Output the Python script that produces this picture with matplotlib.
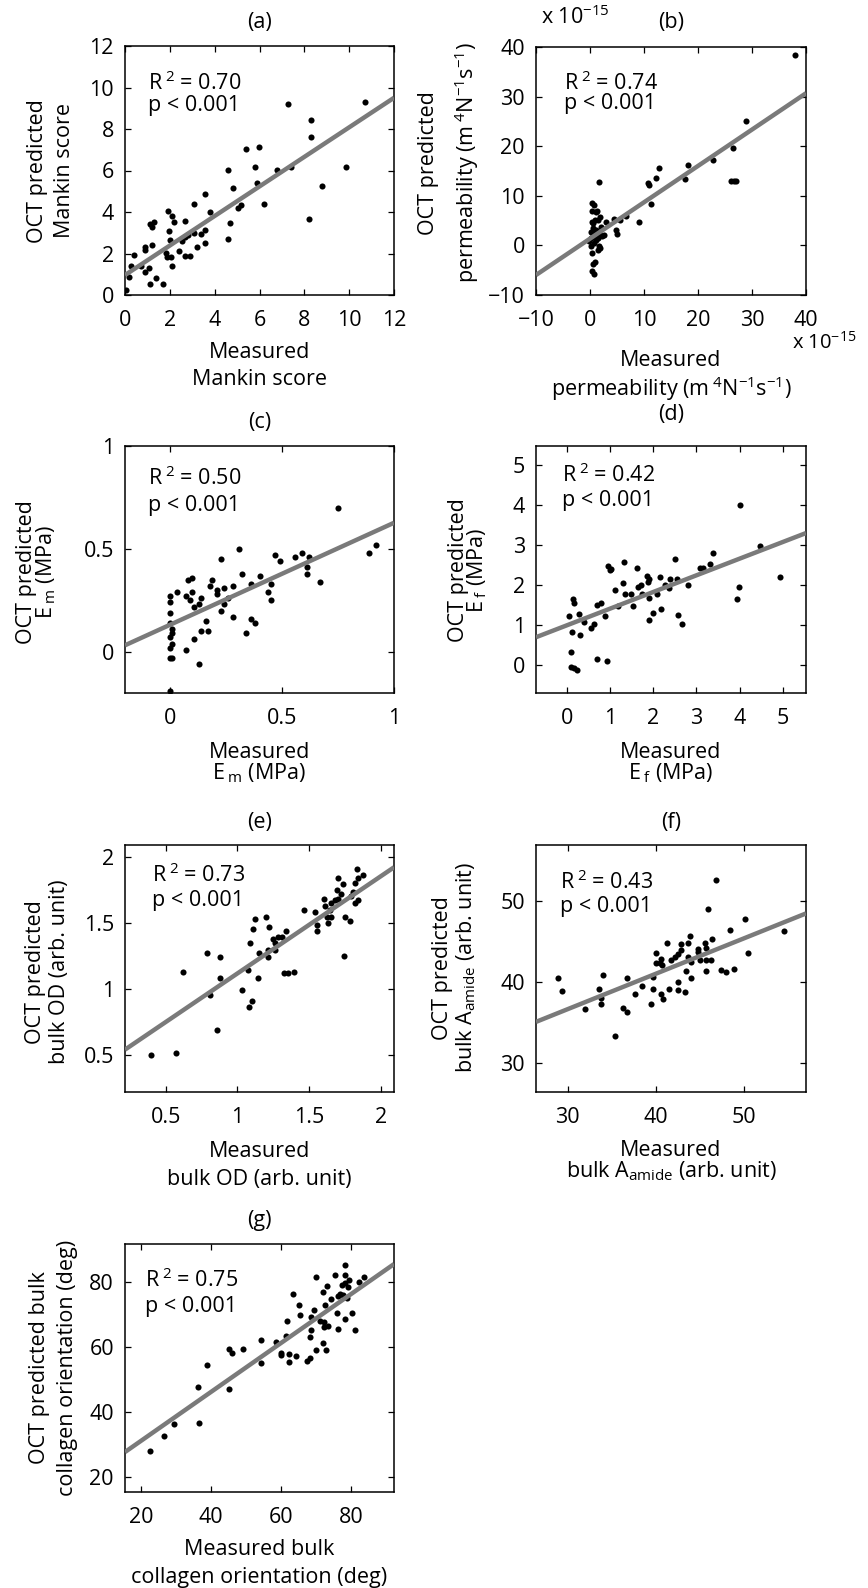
import numpy as np
import matplotlib
matplotlib.use("Agg")
import matplotlib.pyplot as plt
from matplotlib.ticker import FuncFormatter

plt.rcParams['font.family'] = ['Open Sans', 'DejaVu Sans']
plt.rcParams['mathtext.fontset'] = 'custom'
plt.rcParams['mathtext.rm'] = 'Open Sans'
plt.rcParams['mathtext.it'] = 'Open Sans:italic'
plt.rcParams['mathtext.bf'] = 'Open Sans:bold'
plt.rcParams['mathtext.sf'] = 'Open Sans'

# ---------------- data ----------------
a_meas = [0.04,0.18,0.27,0.39,0.70,0.89,0.88,0.91,1.08,1.10,1.10,1.19,1.19,1.28,1.38,1.68,1.81,1.87,1.90,1.98,
          1.99,2.05,2.08,2.09,2.18,2.39,2.55,2.69,2.67,2.69,2.79,2.91,3.10,3.10,3.19,3.39,3.58,3.58,3.58,3.79,
          4.59,4.59,4.68,4.80,5.06,5.18,5.39,5.78,5.90,5.99,6.19,6.76,7.29,7.40,8.20,8.29,8.29,8.78,9.88,10.69]
a_pred = [0.24,0.88,1.41,1.91,1.41,1.09,2.17,2.33,1.30,0.53,3.44,2.41,3.29,3.53,0.84,0.53,2.01,1.85,4.05,3.08,
          2.65,1.85,3.81,1.40,3.53,2.14,2.62,3.55,2.81,1.90,2.89,1.90,4.40,2.97,2.33,2.92,4.85,3.13,2.52,3.98,
          6.04,2.71,3.49,5.16,4.18,4.32,7.04,6.15,5.41,7.15,4.39,6.02,9.22,6.18,3.66,7.60,8.42,5.25,6.18,9.29]
a_fit = (0.712, 0.96)   # slope, intercept

# permeability, in units of 1e-15 m^4 N^-1 s^-1
b_meas = [37.9,28.9,26.5,26.2,26.7,27.0,22.7,18.1,17.5,12.8,12.3,10.7,10.9,11.3,9.0,6.6,5.6,4.9,5.0,4.4,
          3.0,1.7,0.3,0.7,0.3,1.3,0.9,0.6,1.4,1.9,0.2,0.7,1.2,1.7,2.0,2.2,0.2,0.7,1.1,1.9,
          0.3,1.0,0.6,0.4,0.8,1.4,-0.1,0.5,1.5,0.9,2.5,1.1,0.4,1.6,0.2]
b_pred = [38.3,25.0,19.7,13.0,13.0,13.0,17.2,16.2,13.4,15.6,13.6,12.5,12.1,8.3,4.8,6.0,5.2,3.2,2.3,5.4,
          4.8,12.8,8.5,8.1,7.0,7.0,5.2,4.6,5.2,5.7,2.8,2.5,3.2,2.5,3.8,1.8,-0.2,0.5,1.1,-0.5,
          -1.5,-3.3,-3.8,-5.2,-5.8,-1.0,0.8,3.5,1.5,1.8,2.0,6.8,4.8,-0.2,1.5]
b_fit = (0.733, 1.36)

c_meas = [0.75,0.89,0.92,0.31,0.23,0.47,0.49,0.56,0.59,0.62,0.61,0.61,0.67,0.40,0.32,0.36,0.45,0.44,0.45,0.28,
          0.24,0.21,0.21,0.19,0.18,0.26,0.24,0.23,0.28,0.36,0.38,0.34,0.16,0.17,0.14,0.11,0.13,0.07,0.08,0.10,
          0.03,0.07,0.09,0.10,0.11,0.13,0.14,0.00,0.00,0.00,0.00,0.01,0.01,0.00,0.01,0.00,0.00,0.01,0.00]
c_pred = [0.70,0.48,0.52,0.50,0.45,0.47,0.44,0.46,0.48,0.46,0.41,0.38,0.34,0.37,0.38,0.33,0.33,0.29,0.25,0.32,
          0.31,0.30,0.28,0.35,0.32,0.26,0.23,0.20,0.17,0.16,0.14,0.09,0.15,0.10,0.10,0.06,-0.06,0.01,0.35,0.36,
          0.29,0.27,0.25,0.29,0.22,0.23,0.26,0.27,0.24,0.19,0.14,0.11,0.09,0.07,0.04,0.02,-0.03,-0.03,-0.19]
c_fit = (0.496, 0.131)

d_meas = [4.02,4.47,4.93,3.98,3.94,3.38,3.32,3.08,3.15,2.80,2.50,2.55,2.39,2.37,2.27,2.15,2.18,2.57,2.66,2.08,
          1.99,1.89,1.89,1.85,1.89,1.88,1.72,1.62,1.64,1.73,1.48,1.35,1.33,1.29,1.54,1.17,1.12,0.96,1.02,1.00,
          0.89,0.79,0.69,0.93,0.69,0.62,0.56,0.39,0.30,0.27,0.17,0.13,0.05,0.11,0.09,0.09,0.22,0.16]
d_pred = [3.99,2.98,2.20,1.95,1.65,2.80,2.52,2.43,2.42,2.01,2.65,2.16,2.15,1.94,2.01,2.20,1.41,1.26,1.04,1.79,
          1.30,1.13,1.68,2.22,2.15,2.07,2.00,2.42,1.95,1.79,1.79,1.79,2.57,2.05,1.47,1.47,1.87,2.47,2.40,2.39,
          1.24,1.55,1.51,0.10,0.17,1.02,0.92,1.09,0.75,1.28,1.55,1.65,1.24,0.83,0.33,-0.04,-0.11,-0.07]
d_fit = (0.415, 1.0)

e_meas = [0.40,0.57,0.62,0.79,0.88,0.88,0.81,0.86,1.03,1.10,1.08,1.07,1.09,1.11,1.12,1.15,1.14,1.20,1.22,1.21,
          1.21,1.25,1.26,1.28,1.31,1.34,1.26,1.32,1.35,1.39,1.46,1.54,1.55,1.55,1.61,1.60,1.62,1.63,1.65,1.64,
          1.68,1.69,1.70,1.73,1.72,1.75,1.74,1.78,1.79,1.80,1.82,1.83,1.84,1.82,1.84,1.87,1.70,1.65]
e_pred = [0.50,0.51,1.13,1.27,1.24,1.08,0.95,0.69,0.99,0.91,0.86,1.14,1.35,1.45,1.53,1.27,1.08,1.54,1.47,1.24,
          1.29,1.38,1.35,1.39,1.39,1.44,1.29,1.12,1.12,1.13,1.60,1.58,1.48,1.44,1.63,1.68,1.54,1.50,1.54,1.60,
          1.67,1.75,1.84,1.79,1.72,1.54,1.25,1.51,1.70,1.73,1.80,1.91,1.84,1.65,1.67,1.86,1.68,1.65]
e_fit = (0.739, 0.377)

f_meas = [28.9,29.4,32.0,33.5,33.8,33.8,34.0,35.4,36.2,36.7,36.7,37.6,38.4,39.4,39.6,39.6,40.0,40.0,40.4,40.6,
          40.7,40.6,40.8,41.2,41.5,41.7,42.1,42.5,42.5,42.5,42.8,42.8,43.3,43.4,43.6,43.6,43.8,43.9,44.0,44.7,
          44.8,45.0,45.5,45.7,45.7,45.6,45.9,46.2,46.3,46.8,47.4,47.9,48.4,48.8,50.1,50.4,54.5]
f_pred = [40.5,38.9,36.7,39.1,38.0,37.3,40.8,33.3,36.8,36.3,40.5,38.5,39.5,37.3,39.1,40.6,43.5,42.3,42.3,42.8,
          42.1,38.5,37.9,44.8,39.1,42.7,43.1,43.4,40.0,39.0,43.9,44.7,38.7,41.3,43.1,44.8,45.6,42.4,40.5,44.1,
          43.7,42.7,44.8,44.2,42.7,41.3,49.0,42.7,45.3,52.5,41.4,41.2,46.4,41.6,47.8,43.5,46.3]
f_fit = (0.4375, 23.5)

g_meas = [22.6,26.6,29.4,36.6,36.3,38.9,45.2,45.0,45.9,49.0,54.2,54.2,58.4,59.9,59.9,61.5,61.7,62.2,62.3,63.4,
          64.1,65.0,65.5,67.4,68.1,68.1,68.6,68.6,69.3,69.8,70.0,71.0,71.8,71.8,72.1,72.1,72.5,72.9,73.1,73.4,
          74.3,75.4,75.9,76.2,76.2,76.9,77.4,77.7,78.3,78.3,78.3,78.3,78.8,79.1,79.4,80.3,81.2,82.1,83.6]
g_pred = [28.0,32.7,36.3,36.8,47.8,54.5,47.0,59.3,58.3,59.4,62.2,55.2,61.5,58.3,57.6,63.5,68.1,55.3,57.9,76.3,
          57.3,72.9,69.9,55.8,56.7,63.2,65.3,69.2,71.4,81.7,59.1,68.1,76.9,61.2,66.3,67.8,73.0,59.1,78.8,66.6,
          75.0,82.2,70.4,75.9,65.5,76.3,79.2,76.1,85.3,82.2,68.6,79.9,75.3,78.6,80.7,70.6,65.3,80.2,81.7]
g_fit = (0.754, 16.1)

panel_titles = ['(a)', '(b)', '(c)', '(d)', '(e)', '(f)', '(g)']
r2_texts = ['R$^{\\;2}$ = 0.70', 'R$^{\\;2}$ = 0.74', 'R$^{\\;2}$ = 0.50', 'R$^{\\;2}$ = 0.42',
            'R$^{\\;2}$ = 0.73', 'R$^{\\;2}$ = 0.43', 'R$^{\\;2}$ = 0.75']
p_text = 'p < 0.001'
ylabels = [('OCT predicted', 'Mankin score'),
           ('OCT predicted', 'permeability (m$^{\\;4}$N$^{-1}$s$^{-1}$)'),
           ('OCT predicted', 'E$_{\\;\\mathrm{m}}$ (MPa)'),
           ('OCT predicted', 'E$_{\\;\\mathrm{f}}$ (MPa)'),
           ('OCT predicted', 'bulk OD (arb. unit)'),
           ('OCT predicted', 'bulk A$_{\\mathrm{amide}}$ (arb. unit)'),
           ('OCT predicted bulk', 'collagen orientation (deg)')]
xlabels = [('Measured', 'Mankin score'),
           ('Measured', 'permeability (m$^{\\;4}$N$^{-1}$s$^{-1}$)'),
           ('Measured', 'E$_{\\;\\mathrm{m}}$ (MPa)'),
           ('Measured', 'E$_{\\;\\mathrm{f}}$ (MPa)'),
           ('Measured', 'bulk OD (arb. unit)'),
           ('Measured', 'bulk A$_{\\mathrm{amide}}$ (arb. unit)'),
           ('Measured bulk', 'collagen orientation (deg)')]
offset_label = 'x 10$^{-15}$'

# ---------------- layout ----------------
W, H, DPI = 868, 1588, 100
FS = 15.5
fig = plt.figure(figsize=(W / DPI, H / DPI), dpi=DPI)
fig.patch.set_facecolor('white')


def put(x, y, s, rot=0, ha='center', size=FS):
    """Place text so that the cap-height centre is at pixel (x, y)."""
    em = size * DPI / 72.0
    if rot == 0:
        fig.text(x / W, 1 - (y + 0.357 * em) / H, s, ha=ha, va='baseline', fontsize=size)
    else:
        fig.text((x + 0.357 * em) / W, 1 - y / H, s, rotation=90, rotation_mode='anchor',
                 ha=ha, va='baseline', fontsize=size)


def fmt(v, pos):
    s = '{:g}'.format(round(v, 6))
    return s.replace('-', '\u2212')


panels = [
    dict(x=a_meas, y=a_pred, fit=a_fit, box=(125, 46, 269, 249), xlim=(0, 12), ylim=(0, 12),
         xt=np.arange(0, 13, 2), yt=np.arange(0, 13, 2), title_y=20,
         yl_x=(35, 62), yl_y=171, xl_y=(350, 377), ann=(148, 82, 103)),
    dict(x=b_meas, y=b_pred, fit=b_fit, box=(536, 47, 270, 248), xlim=(-10, 40), ylim=(-10, 40),
         xt=np.arange(-10, 41, 10), yt=np.arange(-10, 41, 10), title_y=20,
         yl_x=(426, 466), yl_y=163, xl_y=(358, 388), ann=(564, 82, 101)),
    dict(x=c_meas, y=c_pred, fit=c_fit, box=(125, 446, 269, 247), xlim=(-0.2, 1), ylim=(-0.2, 1),
         xt=[0, 0.5, 1], yt=[0, 0.5, 1], title_y=420,
         yl_x=(24, 45), yl_y=572, xl_y=(750, 772), ann=(148, 477, 503)),
    dict(x=d_meas, y=d_pred, fit=d_fit, box=(536, 446, 270, 247), xlim=(-0.72, 5.54), ylim=(-0.69, 5.47),
         xt=np.arange(0, 6), yt=np.arange(0, 6), title_y=412,
         yl_x=(456, 476), yl_y=570, xl_y=(750, 772), ann=(562, 474, 498)),
    dict(x=e_meas, y=e_pred, fit=e_fit, box=(125, 845, 269, 247), xlim=(0.218, 2.088), ylim=(0.217, 2.089),
         xt=[0.5, 1, 1.5, 2], yt=[0.5, 1, 1.5, 2], title_y=820,
         yl_x=(33, 57), yl_y=972, xl_y=(1149, 1177), ann=(152, 874, 898)),
    dict(x=f_meas, y=f_pred, fit=f_fit, box=(536, 845, 270, 247), xlim=(26.4, 56.98), ylim=(26.4, 56.87),
         xt=[30, 40, 50], yt=[30, 40, 50], title_y=820,
         yl_x=(440, 465), yl_y=968, xl_y=(1148, 1170), ann=(560, 881, 904)),
    dict(x=g_meas, y=g_pred, fit=g_fit, box=(125, 1244, 269, 248), xlim=(15.4, 92.2), ylim=(15.4, 91.8),
         xt=[20, 40, 60, 80], yt=[20, 40, 60, 80], title_y=1218,
         yl_x=(37, 65), yl_y=1368, xl_y=(1547, 1575), ann=(145, 1279, 1304)),
]

for i, p in enumerate(panels):
    l, t, w, h = p['box']
    ax = fig.add_axes([l / W, 1 - (t + h) / H, w / W, h / H])
    ax.plot(p['x'], p['y'], 'o', color='black', markersize=4.4, markeredgewidth=0, zorder=2)
    ax.set_xlim(*p['xlim'])
    ax.set_ylim(*p['ylim'])
    xs = np.array(ax.get_xlim())
    slope, icpt = p['fit']
    ax.plot(xs, slope * xs + icpt, color='#7a7a7a', linewidth=3.2, solid_capstyle='butt', zorder=3)
    ax.set_xticks(p['xt'])
    ax.set_yticks(p['yt'])
    ax.xaxis.set_major_formatter(FuncFormatter(fmt))
    ax.yaxis.set_major_formatter(FuncFormatter(fmt))
    ax.tick_params(axis='both', direction='in', length=4, width=0.9, top=True, right=True,
                   labelsize=FS, colors='black')
    ax.tick_params(axis='x', pad=10.5)
    ax.tick_params(axis='y', pad=8)
    for sp in ax.spines.values():
        sp.set_linewidth(1.1)
    cx = l + w / 2.0
    put(cx, p['title_y'], panel_titles[i])
    put(p['yl_x'][0], p['yl_y'], ylabels[i][0], rot=90)
    put(p['yl_x'][1], p['yl_y'], ylabels[i][1], rot=90)
    put(cx, p['xl_y'][0], xlabels[i][0])
    put(cx, p['xl_y'][1], xlabels[i][1])
    ax_, y1, y2 = p['ann']
    put(ax_, y1, r2_texts[i], ha='left')
    put(ax_, y2, p_text, ha='left')

# exponent labels of panel (b)
put(541, 16, offset_label, ha='left')
put(792, 342, offset_label, ha='left', size=14.5)

fig.savefig('out.png', dpi=DPI, facecolor='white')
